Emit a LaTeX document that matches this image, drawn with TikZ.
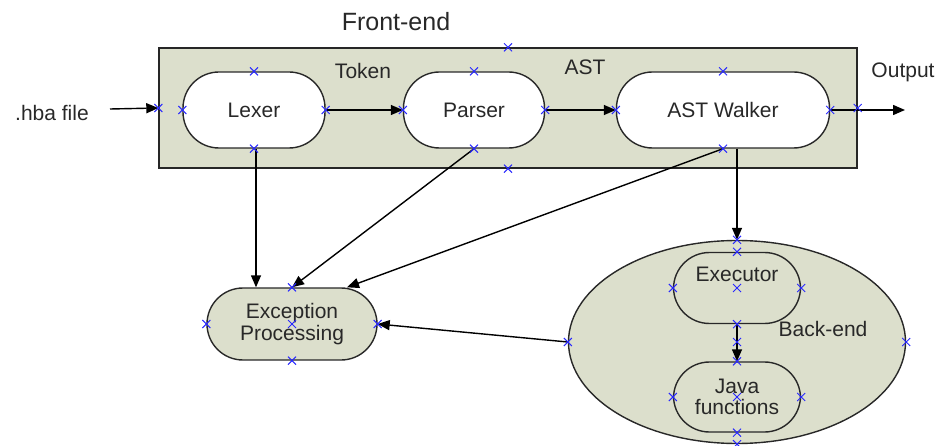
\documentclass[tikz,border=0pt]{standalone}
\usepackage{fontspec}
\setmainfont{Liberation Sans}
\usetikzlibrary{shapes.geometric,arrows.meta,calc}
\definecolor{panel}{RGB}{220,223,204}
\definecolor{ink}{RGB}{40,40,40}
\definecolor{pin}{RGB}{40,40,255}
\tikzset{
  x=1pt, y=-1pt,
  every node/.style={text=ink, font=\fontsize{21}{24}\selectfont},
  pill/.style={draw=ink, line width=1.4pt, fill=white, rectangle, rounded corners=#1,
               inner sep=0pt, align=center},
  pill/.default=36pt,
  panelbox/.style={draw=black!85, line width=1.4pt, fill=panel, rectangle, inner sep=0pt},
  flow/.style={draw=black, line width=1.4pt, -{Triangle[length=12pt,width=10pt]}},
  xmark/.style={draw=pin, line width=1pt},
  caption/.style={inner sep=0pt}
}
\begin{document}
\begin{tikzpicture}
\useasboundingbox (0,0) rectangle (939,446);

% front-end panel with its three stages
\node[panelbox, minimum width=698pt, minimum height=120pt] (fe) at (508,108) {};
\node[caption, font=\fontsize{25}{28}\selectfont] (fetitle) at (396,22) {Front-end};
\node[pill, minimum width=142pt, minimum height=76pt] (lexer) at (254,110) {Lexer};
\node[pill, minimum width=141pt, minimum height=76pt] (parser) at (474,110) {Parser};
\node[pill, minimum width=213pt, minimum height=76pt] (walker) at (723,110) {AST Walker};
\node[caption] (token) at (363,71) {Token};
\node[caption] (ast) at (585,67) {AST};
\node[caption] (out) at (903,72) {Output};
\node[caption] (hba) at (52,113) {.hba file};

% exception handling
\node[pill, fill=panel, minimum width=170pt, minimum height=72pt] (exc) at (292,324)
  {Exception\\[-2pt]Processing};

% back-end
\node[draw=ink, line width=1.4pt, fill=panel, ellipse, inner sep=0pt,
      minimum width=337pt, minimum height=203pt] (be) at (737,342) {};
\node[pill, fill=panel, minimum width=127pt, minimum height=71pt, text depth=28pt] (exec) at (737,288) {Executor};
\node[pill, fill=panel, minimum width=127pt, minimum height=70pt] (java) at (737,397)
  {Java\\[-3pt]functions};
\node[caption] (betitle) at (823,329) {Back-end};

% free ends of the input and output arrows
\coordinate (inStart) at (110,109);
\coordinate (outEnd) at (905,110);

% connectors
\draw[flow] (inStart) -- (fe.west);
\draw[flow] (lexer.east) -- (parser.west);
\draw[flow] (parser.east) -- (walker.west);
\draw[flow] (walker.east) -- (outEnd);
\draw[flow] ([xshift=2pt]lexer.south) -- ([xshift=2pt]lexer.south |- exc.north);
\draw[flow] (parser.south) -- (exc.north);
\draw[flow] (walker.south) -- ([xshift=55pt]exc.north);
\draw[flow] (walker.south -| be.north) -- (be.north);
\draw[flow] (be.west) -- (exc.east);
\draw[flow] (exec.south) -- (java.north);

% connection points
\foreach \p in {fe.north, fe.south, fe.west, fe.east,
                lexer.north, lexer.south, lexer.west, lexer.east,
                parser.north, parser.south, parser.west, parser.east,
                walker.north, walker.south, walker.west, walker.east,
                exc.north, exc.south, exc.west, exc.east, exc.center,
                be.north, be.south, be.west, be.east, be.center,
                exec.north, exec.south, exec.west, exec.east, exec.center,
                java.north, java.south, java.west, java.east, java.center}
  \draw[xmark] (\p) +(-4,-4) -- +(4,4) +(-4,4) -- +(4,-4);
\end{tikzpicture}
\end{document}
